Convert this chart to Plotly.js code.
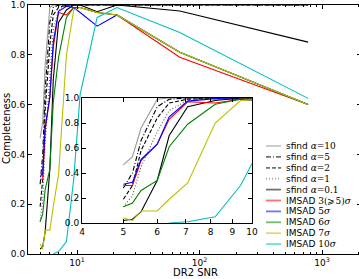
<!DOCTYPE html>
<html><head><meta charset="utf-8">
<script src="https://cdn.plot.ly/plotly-3.0.1.min.js"></script>
<style>html,body{margin:0;padding:0;overflow:hidden;background:#fff}#c{width:363px;height:279px}</style>
</head><body><div id="c"></div>
<script>
// SNR bin centres
const snr = [5.0, 5.25, 5.5, 6.0, 6.4, 7.07, 8.2, 9.4, 10.6, 14.6, 21.2, 69, 770];
// completeness per method
const sfind10  = [0.465,0.53,0.76,0.99,1,1,1,1,1,1,1,1,1];
const sfind5   = [0.28,0.40,0.66,0.93,0.99,1,1,1,1,1,1,1,1];
const sfind2   = [0.19,0.30,0.58,0.84,0.96,0.99,1,1,1,1,1,1,1];
const sfind1   = [0.13,0.22,0.45,0.73,0.90,0.98,1,1,1,1,1,1,1];
const sfind01  = [0.02,0.03,0.09,0.34,0.70,0.93,0.98,1,1,0.973,1,0.976,0.851];
const imsad3   = [0.30,0.30,0.50,0.63,0.83,0.97,0.96,0.99,0.99,0.97,0.96,0.79,0.60];
const imsad5   = [0.31,0.325,0.51,0.63,0.85,0.975,0.995,0.99,0.97,0.915,0.96,0.81,0.60];
const imsad6   = [0.13,0.16,0.26,0.34,0.61,0.79,0.95,0.99,0.99,0.97,0.96,0.81,0.60];
const imsad7   = [0.04,0.02,0.096,0.096,0.19,0.32,0.80,0.98,0.99,0.97,0.96,0.81,0.60];
const imsad10  = [null,null,null,null,0.0,0.01,0.05,0.30,0.64,0.95,0.99,0.89,0.625];

const M = 'font-family:DejaVu Serif';
const series = [
  {y: sfind10, name: 'sfind <span style="'+M+'"><i>α</i>=10</span>', color:'#999999', dash:'solid'},
  {y: sfind5,  name: 'sfind <span style="'+M+'"><i>α</i>=5</span>',  color:'#000000', dash:'5px,2px,1px,2px'},
  {y: sfind2,  name: 'sfind <span style="'+M+'"><i>α</i>=2</span>',  color:'#000000', dash:'4px,2px'},
  {y: sfind1,  name: 'sfind <span style="'+M+'"><i>α</i>=1</span>',  color:'#555555', dash:'1px,2px'},
  {y: sfind01, name: 'sfind <span style="'+M+'"><i>α</i>=0.1</span>',color:'#000000', dash:'solid'},
  {y: imsad3,  name: 'IMSAD <span style="'+M+'">3(⩾5)<i>σ</i></span>', color:'#ff0000', dash:'solid'},
  {y: imsad5,  name: 'IMSAD <span style="'+M+'">5<i>σ</i></span>',  color:'#0000ff', dash:'solid'},
  {y: imsad6,  name: 'IMSAD <span style="'+M+'">6<i>σ</i></span>',  color:'#008000', dash:'solid'},
  {y: imsad7,  name: 'IMSAD <span style="'+M+'">7<i>σ</i></span>',  color:'#bfbf00', dash:'solid'},
  {y: imsad10, name: 'IMSAD <span style="'+M+'">10<i>σ</i></span>', color:'#00bfbf', dash:'solid'}
];

const traces = [];
series.forEach(s => {
  traces.push({x: snr, y: s.y, type:'scatter', mode:'lines', xaxis:'x', yaxis:'y',
    line:{color:s.color, width:1.1, dash:s.dash}, showlegend:false, hoverinfo:'skip'});
});
series.forEach(s => {
  traces.push({x: snr, y: s.y, type:'scatter', mode:'lines', xaxis:'x2', yaxis:'y2',
    line:{color:s.color, width:1.1, dash:s.dash}, showlegend:false, hoverinfo:'skip', cliponaxis:true});
});

// geometry helpers (pixel -> paper)
const L = 28, PW = 333, B = 254, PH = 249;
const px = v => (v - L) / PW;
const py = v => (B - v) / PH;

const shapes = [], annotations = [];
series.forEach((s, i) => {
  const yy = py(146 + i * 10.9);
  shapes.push({type:'line', xref:'paper', yref:'paper', x0:px(266), x1:px(281), y0:yy, y1:yy,
    line:{color:s.color, width:1.8, dash:s.dash}, opacity:0.55});
  annotations.push({xref:'paper', yref:'paper', x:px(284), y:yy, xanchor:'left', yanchor:'middle',
    text:s.name, showarrow:false, font:{size:9, color:'#000'}});
});
annotations.push({xref:'paper', yref:'paper', x:px(196), y:py(272), xanchor:'center', yanchor:'middle',
  text:'DR2 SNR', showarrow:false, font:{size:10, color:'#000'}});
annotations.push({xref:'paper', yref:'paper', x:px(6), y:py(129), xanchor:'center', yanchor:'middle',
  text:'Completeness', textangle:-90, showarrow:false, font:{size:10, color:'#000'}});

const minorMain = [5,6,7,8,9,20,30,40,50,60,70,80,90,200,300,400,500,600,700,800,900,2000];

const layout = {
  width:363, height:279, margin:{l:28, r:2, t:5, b:25},
  paper_bgcolor:'#fff', plot_bgcolor:'#fff',
  font:{family:'DejaVu Sans', size:9, color:'#000'},
  showlegend:false,
  xaxis:{type:'log', range:[0.6, 3.318], domain:[0,1], anchor:'y',
    tickmode:'array', tickvals:[10,100,1000], ticktext:['10<sup>1</sup>','10<sup>2</sup>','10<sup>3</sup>'],
    ticks:'inside', ticklen:4, tickcolor:'#000', showline:true, linecolor:'#000', linewidth:1, mirror:'allticks',
    showgrid:false, zeroline:false, automargin:false,
    minor:{tickmode:'array', tickvals:minorMain, ticks:'inside', ticklen:2, tickcolor:'#000', showgrid:false}},
  yaxis:{range:[0,1], domain:[0,1], anchor:'x', tickmode:'array', tickvals:[0,0.2,0.4,0.6,0.8,1.0], tickformat:'.1f',
    ticks:'inside', ticklen:4, tickcolor:'#000', showline:true, linecolor:'#000', linewidth:1, mirror:'allticks',
    showgrid:false, zeroline:false, automargin:false},
  xaxis2:{type:'log', range:[Math.log10(4), 1], domain:[px(82), px(252)], anchor:'y2',
    tickmode:'array', tickvals:[4,5,6,7,8,9,10], ticktext:['4','5','6','7','8','9','10'],
    ticks:'inside', ticklen:4, tickcolor:'#000', showline:true, linecolor:'#000', linewidth:1, mirror:'allticks',
    showgrid:false, zeroline:false, automargin:false},
  yaxis2:{range:[0,1], domain:[py(223), py(98)], anchor:'x2', tickmode:'array', tickvals:[0,0.2,0.4,0.6,0.8,1.0], tickformat:'.1f',
    ticks:'inside', ticklen:4, tickcolor:'#000', showline:true, linecolor:'#000', linewidth:1, mirror:'allticks',
    showgrid:false, zeroline:false, automargin:false},
  shapes: shapes,
  annotations: annotations
};
Plotly.newPlot('c', traces, layout, {staticPlot:true, displayModeBar:false});
</script></body></html>
